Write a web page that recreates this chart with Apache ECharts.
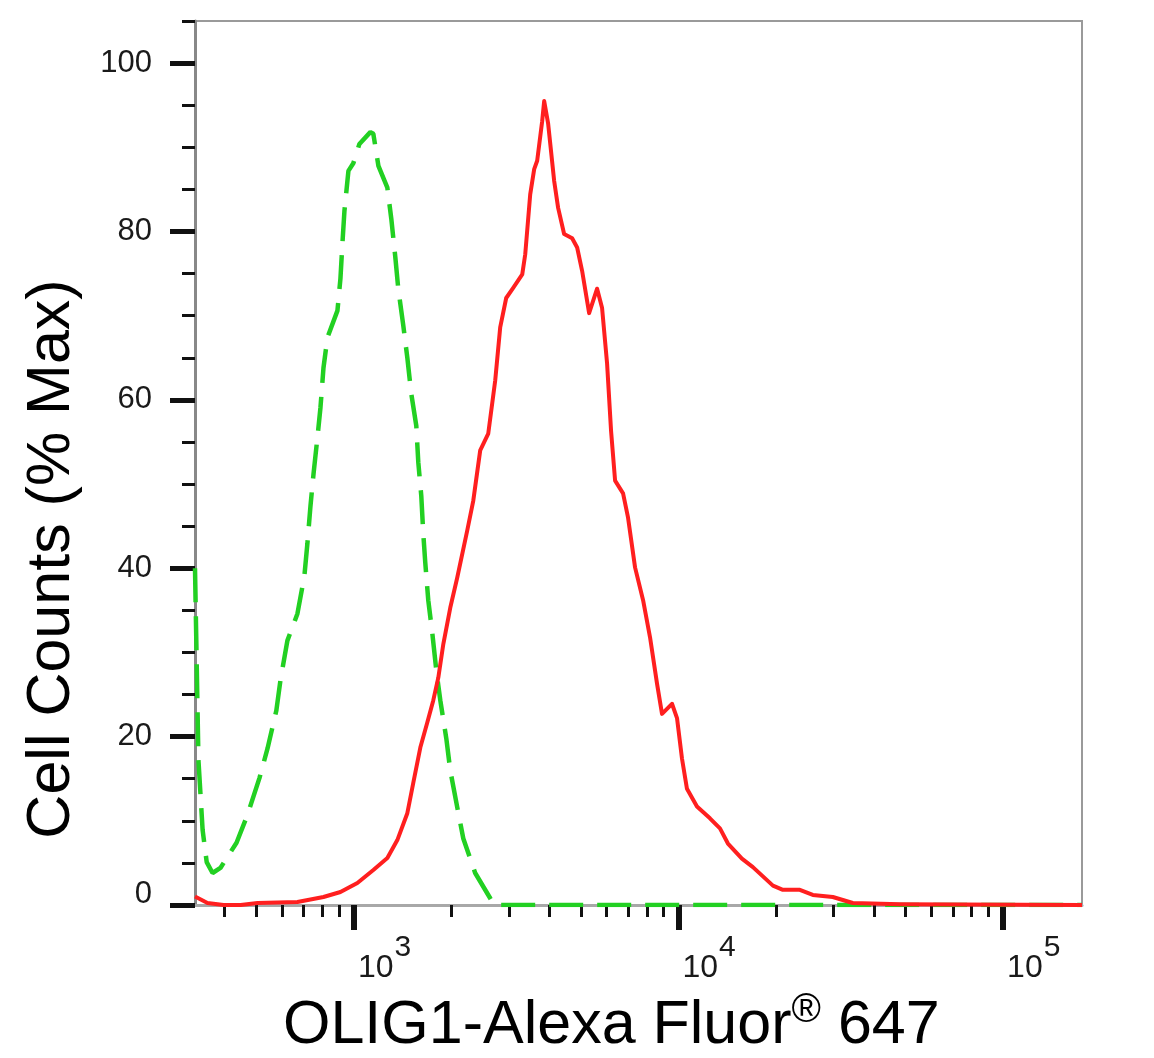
<!DOCTYPE html>
<html>
<head>
<meta charset="utf-8">
<title>OLIG1 histogram</title>
<script src="https://cdn.jsdelivr.net/npm/echarts@6/dist/echarts.min.js"></script>
<style>
  html, body { margin: 0; padding: 0; background: #fff; }
  #main { width: 1154px; height: 1058px; }
</style>
</head>
<body>
<div id="main"></div>
<script>
// intensity (raw fluorescence) and % max
var greenX = [324, 332, 342, 352, 367, 388, 435, 470, 512, 542, 577, 594, 624, 670, 704, 719, 735, 751, 772, 789, 806, 829, 890, 909, 922, 935, 962, 996, 1040, 1124, 1148, 1190, 1268, 1304, 1342, 1370, 1420, 1461, 1503, 1557, 1579, 1613, 1636, 1659, 1695, 1744, 1794, 1846, 1926, 1981, 2082, 2173, 2364, 2630, 2700, 175000];
var greenY = [40, 17.2, 8.9, 5.1, 3.8, 4.4, 7.4, 10.7, 15.1, 18.6, 23.1, 26.7, 31.4, 34.6, 39.1, 42.9, 47.4, 51.2, 55.5, 59.1, 63.8, 67.4, 70.6, 74.4, 78.6, 82.4, 87.2, 88.1, 90.4, 91.8, 91.6, 87.8, 85.2, 81.5, 76.9, 73.2, 68.8, 65.0, 60.7, 56.9, 52.6, 48.6, 44.1, 40.7, 36.2, 32.3, 27.9, 24.3, 19.8, 16.0, 11.6, 7.9, 3.8, 0.8, 0, 0];

var redX = [324, 354, 397, 448, 505, 670, 806, 909, 1025, 1148, 1268, 1361, 1461, 1524, 1602, 1684, 1756, 1820, 1886, 1981, 2082, 2235, 2332, 2450, 2594, 2725, 2823, 2946, 3096, 3301, 3372, 3493, 3593, 3670, 3802, 3857, 3967, 4140, 4258, 4443, 4703, 4873, 5049, 5305, 5614, 5816, 6026, 6199, 6378, 6749, 6992, 7348, 7779, 8172, 8587, 8897, 9550, 9895, 10250, 10620, 11400, 12500, 13420, 14200, 15680, 16950, 19540, 20970, 23650, 25930, 29880, 34430, 48030, 175000];
var redY = [1.0, 0.24, 0, 0, 0.24, 0.36, 0.95, 1.54, 2.61, 4.15, 5.58, 7.71, 10.9, 14.5, 18.7, 21.7, 24.3, 27.0, 31.0, 35.3, 38.9, 44.5, 48.0, 54.0, 56.0, 62.3, 68.6, 72.1, 73.3, 74.9, 77.3, 84.4, 87.4, 88.4, 93.1, 95.5, 92.8, 86.0, 82.8, 79.7, 79.2, 78.1, 75.3, 70.3, 73.2, 70.9, 64.3, 56.3, 50.4, 48.9, 46.0, 40.1, 36.2, 31.8, 26.3, 22.7, 23.9, 22.2, 17.4, 13.8, 11.7, 10.3, 9.1, 7.3, 5.5, 4.5, 2.3, 1.8, 1.8, 1.2, 0.95, 0.24, 0.1, 0];

var yMajor = [0, 20, 40, 60, 80, 100];
var yMinor = [5, 10, 15, 25, 30, 35, 45, 50, 55, 65, 70, 75, 85, 90, 95, 105];
var xMajor = [1000, 10000, 100000];
var xMinor = [400, 500, 600, 700, 800, 900, 2000, 3000, 4000, 5000, 6000, 7000, 8000, 9000,
              20000, 30000, 40000, 50000, 60000, 70000, 80000, 90000];

var X_MIN = 324, X_MAX = 175000;
var sans = "'Liberation Sans', Arial, Helvetica, sans-serif";

function lg(v) { return Math.log10(v); }
function pairs(xs, ys) {
	var out = [];
	for (var i = 0; i < xs.length; i++) {
		out.push([lg(xs[i]), ys[i]]);
	}
	return out;
}

var myChart = echarts.init(document.getElementById('main'), null, { renderer: 'canvas' });

var option = {
	backgroundColor: '#fff',
	animation: false,
	grid: {
		left: 195, right: 72, top: 21, bottom: 153,
		show: true, borderColor: '#9a9a9a', borderWidth: 2, backgroundColor: 'transparent'
	},
	xAxis: [{
		type: 'value', position: 'bottom',
		min: lg(X_MIN), max: lg(X_MAX),
		splitLine: { show: false },
		axisLine: { show: true, lineStyle: { color: '#a8a8a8', width: 3 } },
		axisTick: { show: true, customValues: xMajor.map(lg), length: 25, lineStyle: { color: '#111', width: 6 } },
		axisLabel: {
			show: true, customValues: xMajor.map(lg), align: 'left', verticalAlign: 'top', margin: 37,
			formatter: function (v) { return '{b|10}{s|' + Math.round(v) + '}'; },
			rich: {
				b: { fontFamily: sans, fontSize: 32, lineHeight: 34, color: '#1a1a1a', padding: [18, 0, 0, 4] },
				s: { fontFamily: sans, fontSize: 30, lineHeight: 30, color: '#1a1a1a', padding: [0, 0, 22, 1] }
			}
		}
	}, {
		type: 'value', position: 'bottom',
		min: lg(X_MIN), max: lg(X_MAX),
		splitLine: { show: false },
		axisLine: { show: false },
		axisLabel: { show: false },
		axisTick: { show: true, customValues: xMinor.map(lg), length: 12, lineStyle: { color: '#111', width: 3 } }
	}],
	yAxis: [{
		type: 'value', position: 'left',
		min: 0, max: 105,
		splitLine: { show: false },
		axisLine: { show: true, lineStyle: { color: '#888', width: 3 } },
		axisTick: { show: true, customValues: yMajor, length: 25, lineStyle: { color: '#111', width: 5 } },
		axisLabel: {
			show: true, customValues: yMajor, margin: 43,
			fontFamily: sans, fontSize: 31, color: '#1a1a1a',
			formatter: function (v) { return v === 0 ? '{z|0}' : String(v); },
			rich: {
				z: { fontFamily: sans, fontSize: 31, color: '#1a1a1a', padding: [0, 0, 22, 0] }
			}
		}
	}, {
		type: 'value', position: 'left',
		min: 0, max: 105,
		splitLine: { show: false },
		axisLine: { show: false },
		axisLabel: { show: false },
		axisTick: { show: true, customValues: yMinor, length: 13, lineStyle: { color: '#111', width: 3 } }
	}],
	graphic: [{
		type: 'text', x: 52, y: 559, rotation: Math.PI / 2,
		style: {
			text: 'Cell Counts (% Max)', fill: '#000',
			font: '61px ' + sans, align: 'center', verticalAlign: 'middle'
		}
	}, {
		type: 'text', x: 283, y: 1026,
		style: {
			text: 'OLIG1-Alexa Fluor{r|®} 647', fill: '#000',
			font: '61px ' + sans, align: 'left', verticalAlign: 'middle',
			rich: {
				r: { fontSize: 40, fontFamily: sans, fill: '#000', verticalAlign: 'top', padding: [0, 0, 30, 0] }
			}
		}
	}],
	series: [{
		name: 'control',
		type: 'line',
		xAxisIndex: 0, yAxisIndex: 0,
		showSymbol: false,
		data: pairs(greenX, greenY),
		lineStyle: { color: '#22d022', width: 4.5, type: [34, 14] },
		z: 3
	}, {
		name: 'OLIG1',
		type: 'line',
		xAxisIndex: 0, yAxisIndex: 0,
		showSymbol: false,
		data: pairs(redX, redY),
		lineStyle: { color: '#ff1f1f', width: 4, join: 'round' },
		z: 4
	}]
};

myChart.setOption(option);
</script>
</body>
</html>
